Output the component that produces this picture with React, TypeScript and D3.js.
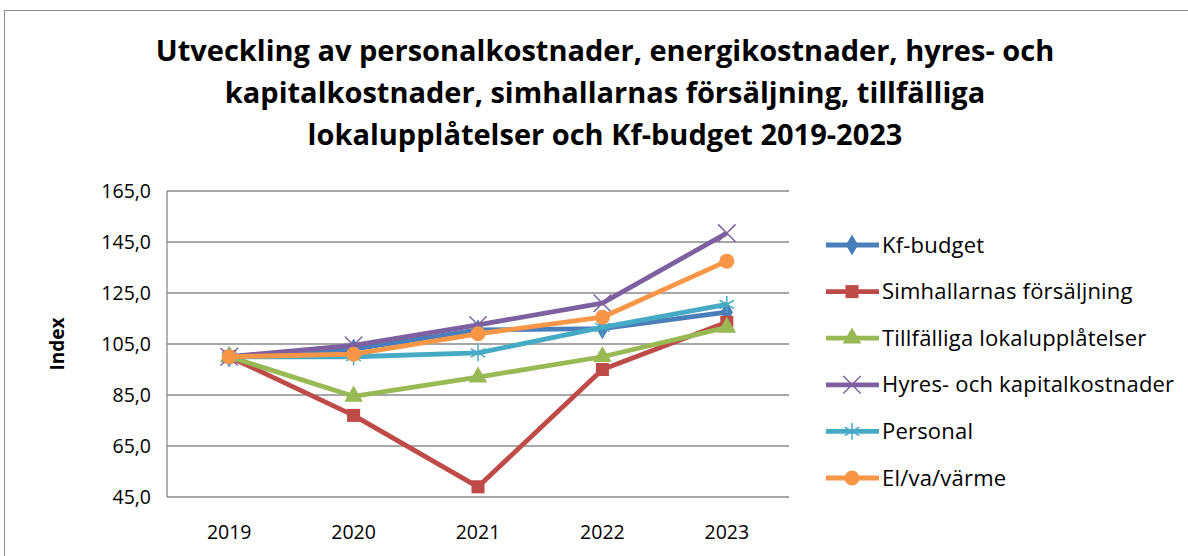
import React from "react";
import * as d3 from "d3";

// data
const years = ["2019", "2020", "2021", "2022", "2023"];
const yTicks = [45, 65, 85, 105, 125, 145, 165];

const kfBudget = [100, 103, 110.5, 111, 117.5];
const simhallar = [100, 77, 49, 95, 113.5];
const tillfalliga = [100, 84.5, 92, 100, 111.5];
const hyres = [100, 104.5, 112.5, 121, 148.5];
const personal = [100, 100, 101.5, 111.5, 120.5];
const elVaVarme = [100, 101, 109, 115.5, 137.5];

const seriesNames = [
  "Kf-budget",
  "Simhallarnas försäljning",
  "Tillfälliga lokalupplåtelser",
  "Hyres- och kapitalkostnader",
  "Personal",
  "El/va/värme",
];
const seriesValues = [kfBudget, simhallar, tillfalliga, hyres, personal, elVaVarme];
const seriesColors = ["#4A7EBB", "#BE4B48", "#98B954", "#7D60A0", "#46AAC5", "#F79646"];

const titleLines = [
  "Utveckling av personalkostnader, energikostnader, hyres- och",
  "kapitalkostnader, simhallarnas försäljning,  tillfälliga",
  "lokalupplåtelser och Kf-budget 2019-2023",
];

const font = "'Open Sans', 'Liberation Sans', sans-serif";

// marker for series i, drawn around 0,0
function Marker({ i, color }: { i: number; color: string }) {
  const filled = [d3.symbolDiamond, d3.symbolSquare, d3.symbolTriangle];
  if (i < 3) {
    const size = i === 0 ? 130 : i === 1 ? 170 : 150;
    return <path d={d3.symbol(filled[i], size)() || ""} fill={color} />;
  }
  if (i === 3) {
    return <path d={d3.symbol(d3.symbolTimes, 200)() || ""} fill="none" stroke={color} strokeWidth={1.5} />;
  }
  if (i === 4) {
    return <path d={d3.symbol(d3.symbolAsterisk, 200)() || ""} fill="none" stroke={color} strokeWidth={1.5} />;
  }
  return <circle r={7.5} fill={color} />;
}

export default function App() {
  const W = 1188;
  const H = 556;
  const plot = { left: 167, right: 789, top: 191, bottom: 497 };

  const x = d3.scalePoint().domain(years).range([plot.left, plot.right]).padding(0.5);
  const y = d3.scaleLinear().domain([45, 165]).range([plot.bottom, plot.top]);

  const line = d3
    .line<number>()
    .x((d, i) => x(years[i]) as number)
    .y((d) => y(d));

  const legendX = 826;
  const legendY0 = 245;
  const legendStep = 46.6;

  return (
    <svg
      width={W}
      height={H}
      style={{ position: "absolute", left: 0, top: 0, background: "#fff" }}
      fontFamily={font}
    >
      <rect x={4.5} y={10.5} width={W} height={H} fill="#fff" stroke="#8c8c8c" />

      {titleLines.map((t, i) => (
        <text
          key={i}
          x={605}
          y={61 + i * 42}
          textAnchor="middle"
          fontSize={29}
          fontWeight="bold"
          fill="#000"
        >
          {t}
        </text>
      ))}

      {/* grid */}
      {yTicks.map((t) => (
        <g key={t}>
          <line x1={plot.left} x2={plot.right} y1={y(t)} y2={y(t)} stroke="#8a8a8a" strokeWidth={1.3} />
          <text x={151} y={y(t) + 7} textAnchor="end" fontSize={19.5} fill="#000">
            {d3.format(".1f")(t).replace(".", ",")}
          </text>
        </g>
      ))}
      <line x1={plot.left} x2={plot.left} y1={plot.top} y2={plot.bottom} stroke="#8a8a8a" strokeWidth={1.3} />

      {years.map((yr) => (
        <text key={yr} x={x(yr)} y={539} textAnchor="middle" fontSize={19.5} fill="#000">
          {yr}
        </text>
      ))}

      <text
        transform={`translate(64,${(plot.top + plot.bottom) / 2}) rotate(-90)`}
        textAnchor="middle"
        fontSize={19}
        fontWeight="bold"
      >
        Index
      </text>

      {/* series */}
      {seriesValues.map((vals, i) => (
        <g key={seriesNames[i]}>
          <path d={line(vals) || ""} fill="none" stroke={seriesColors[i]} strokeWidth={4.8} strokeLinejoin="round" />
          {vals.map((v, j) => (
            <g key={j} transform={`translate(${x(years[j])},${y(v)})`}>
              <Marker i={i} color={seriesColors[i]} />
            </g>
          ))}
        </g>
      ))}

      {/* legend */}
      {seriesNames.map((n, i) => {
        const ly = legendY0 + i * legendStep;
        return (
          <g key={n}>
            <line x1={legendX} x2={legendX + 53} y1={ly} y2={ly} stroke={seriesColors[i]} strokeWidth={4.8} />
            <g transform={`translate(${legendX + 26},${ly})`}>
              <Marker i={i} color={seriesColors[i]} />
            </g>
            <text x={legendX + 56} y={ly + 7.5} fontSize={22} letterSpacing={0.2} fill="#000">
              {n}
            </text>
          </g>
        );
      })}
    </svg>
  );
}
